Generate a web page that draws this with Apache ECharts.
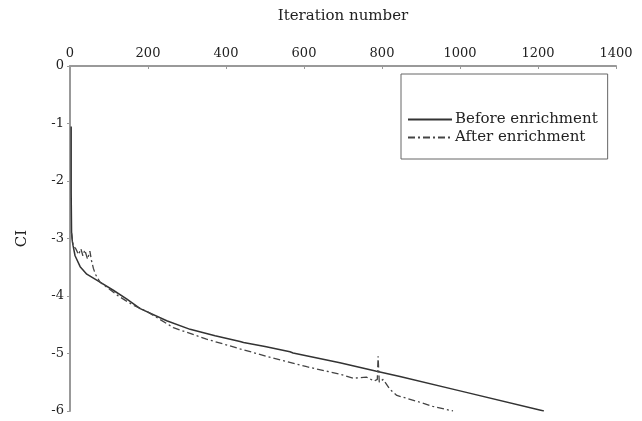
<!DOCTYPE html>
<html>
<head>
<meta charset="utf-8">
<script src="https://cdn.jsdelivr.net/npm/echarts@6/dist/echarts.min.js"></script>
<style>
  html, body { margin: 0; padding: 0; background: #fff; }
  #chart { width: 642px; height: 421px; }
</style>
</head>
<body>
<div id="chart"></div>
<script>
// 数据：迭代次数 / CI
const beforeIter = [3, 3, 4, 6, 8, 13, 26, 43, 77, 111, 145, 180, 248, 308, 372, 436, 440, 445, 500, 564, 568, 572, 692, 786, 846, 1000, 1215]
const beforeCI = [-1.05, -2.2, -2.9, -3.05, -3.13, -3.3, -3.49, -3.62, -3.76, -3.9, -4.05, -4.22, -4.43, -4.58, -4.69, -4.79, -4.77, -4.81, -4.88, -4.97, -4.95, -4.99, -5.16, -5.31, -5.4, -5.65, -6.0]

const afterIter = [4, 8, 15, 22, 28, 33, 38, 45, 51, 55, 60, 65, 77, 124, 162, 200, 265, 350, 436, 521, 607, 692, 727, 760, 780, 788, 790, 793, 803, 820, 838, 889, 930, 982]
const afterCI = [-2.9, -3.12, -3.18, -3.28, -3.18, -3.3, -3.2, -3.36, -3.22, -3.38, -3.52, -3.62, -3.76, -4.0, -4.16, -4.28, -4.55, -4.75, -4.92, -5.08, -5.23, -5.36, -5.43, -5.41, -5.48, -5.45, -5.05, -5.5, -5.45, -5.62, -5.73, -5.83, -5.92, -6.0]

const seriesNames = ['Before enrichment', 'After enrichment']

const font = 'DejaVu Serif'
const zip = (xs, ys) => xs.map((x, i) => [x, ys[i]])

const chart = echarts.init(document.getElementById('chart'))

const option = {
  backgroundColor: '#fff',
  animation: false,
  textStyle: { fontFamily: font },
  grid: { left: 70, right: 26, top: 66, bottom: 10 },
  legend: {
    data: seriesNames,
    orient: 'vertical',
    left: 401,
    top: 74,
    itemWidth: 44,
    itemHeight: 10,
    itemGap: 3,
    padding: [38, 10, 14, 6],
    borderColor: '#666',
    borderWidth: 1,
    itemStyle: { opacity: 0 },
    textStyle: { fontFamily: font, fontSize: 15, color: '#222', padding: [0, 0, 0, -2] }
  },
  xAxis: {
    type: 'value',
    position: 'top',
    min: 0,
    max: 1400,
    interval: 200,
    name: 'Iteration number',
    nameLocation: 'middle',
    nameGap: 42,
    nameTextStyle: { fontFamily: font, fontSize: 15, color: '#222' },
    axisLine: { onZero: false, lineStyle: { color: '#999', width: 2 } },
    axisTick: { inside: true, length: 3, lineStyle: { color: '#999' } },
    axisLabel: { fontFamily: font, fontSize: 13, color: '#222', margin: 6, formatter: v => String(v) },
    splitLine: { show: false }
  },
  yAxis: {
    type: 'value',
    min: -6,
    max: 0,
    interval: 1,
    name: 'CI',
    nameLocation: 'middle',
    nameGap: 40,
    nameRotate: 90,
    nameTextStyle: { fontFamily: font, fontSize: 15, color: '#222' },
    axisLine: { show: true, lineStyle: { color: '#999', width: 2 } },
    axisTick: { show: true, length: 3, lineStyle: { color: '#999' } },
    axisLabel: { fontFamily: font, fontSize: 13, color: '#222', margin: 6 },
    splitLine: { show: false }
  },
  series: [
    {
      name: seriesNames[0],
      type: 'line',
      data: zip(beforeIter, beforeCI),
      symbol: 'none',
      lineStyle: { color: '#333', width: 1.5 },
      itemStyle: { color: '#333' }
    },
    {
      name: seriesNames[1],
      type: 'line',
      data: zip(afterIter, afterCI),
      symbol: 'none',
      lineStyle: { color: '#444', width: 1.3, type: [7, 3, 2, 3] },
      itemStyle: { color: '#444' }
    }
  ]
}

chart.setOption(option)
</script>
</body>
</html>
